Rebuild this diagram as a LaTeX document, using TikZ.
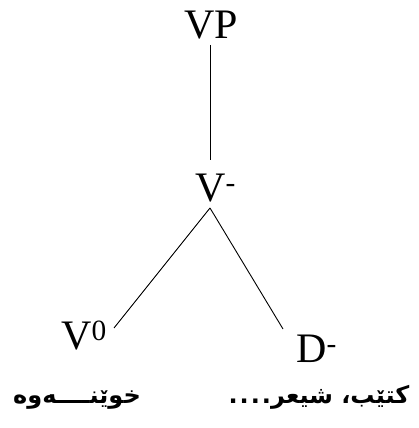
\documentclass[tikz,border=0pt]{standalone}
\usepackage{fontspec}
\setmainfont{Liberation Serif}
\newfontfamily\kurd[Script=Arabic]{DejaVu Sans}
\TeXXeTstate=1
\tikzset{
  cat/.style={inner sep=0pt, anchor=base west, font=\fontsize{42}{44}\selectfont},
  word/.style={inner sep=0pt, anchor=base, font=\kurd\bfseries\fontsize{24}{26}\selectfont},
  branch/.style={line width=0.9pt, black}
}
\begin{document}
\begin{tikzpicture}[x=1pt,y=1pt]
\useasboundingbox (0,0) rectangle (418,428);
\node[cat] (VP) at (184,389) {VP};
\node[cat] (Vb) at (195,226) {V\textsuperscript{-}};
\node[cat] (V0) at (61,78) {V\textsuperscript{0}};
\node[cat] (D) at (296,65) {D\textsuperscript{-}};
\node[word] (w1) at (77,24) {\beginR خوێنــــەوە\endR};
\node[word] (w2) at (319,24) {\beginR کتێب، شیعر.\hspace{2pt}.\hspace{2pt}.\hspace{2pt}.\endR};
\coordinate (top) at (210,383);
\coordinate (mid) at (210,268);
\coordinate (apex) at (210,220);
\coordinate (lend) at (114,100);
\coordinate (rend) at (283,99);
\draw[branch] (top) -- (mid);
\draw[branch] (apex) -- (lend);
\draw[branch] (apex) -- (rend);
\end{tikzpicture}
\end{document}
